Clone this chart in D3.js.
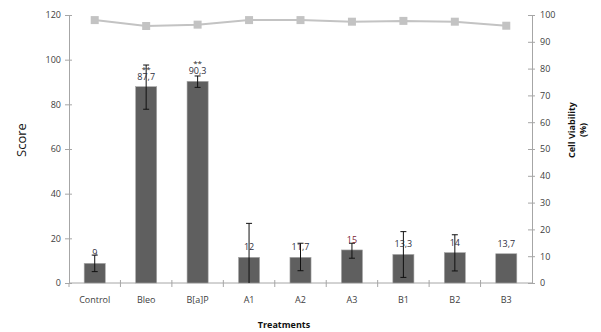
<!DOCTYPE html>
<html lang="en">
<head>
  <meta charset="UTF-8">
  <title>Score and cell viability</title>
  <style>
    body { margin: 0; background: #fff; }
    text { font-family: "Open Sans", "DejaVu Sans", sans-serif; }
  </style>
</head>
<body>
  <svg id="svg" width="601" height="332"></svg>

  <script src="https://d3js.org/d3.v7.min.js"></script>
  <script>
    const treatments = ["Control", "Bleo", "B[a]P", "A1", "A2", "A3", "B1", "B2", "B3"]
    // bar heights as drawn, and the printed labels
    const scores = [8.8, 87.9, 90.3, 11.5, 11.5, 14.8, 12.8, 13.6, 13.1]
    const scoreLabels = ["9", "87,7", "90,3", "12", "11,7", "15", "13,3", "14", "13,7"]
    const errLow = [5.1, 77.8, 87.6, 0, 5.5, 11.1, 2.5, 5.4, null]
    const errHigh = [12.5, 97.6, 92.7, 26.7, 17.8, 17.8, 23, 21.6, null]
    const stars = ["", "**", "**", "", "", "", "", "", ""]
    const viability = [98.1, 95.9, 96.4, 98.1, 98.1, 97.5, 97.8, 97.5, 96.0]
    const scoreTicks = [0, 20, 40, 60, 80, 100, 120]
    const viabilityTicks = [0, 10, 20, 30, 40, 50, 60, 70, 80, 90, 100]

    const svg = d3.select("#svg")
    const plotLeft = 69, plotRight = 532, plotTop = 15, plotBottom = 283
    const axisColor = "#a6a6a6"

    const x = d3.scaleBand()
      .domain(treatments)
      .range([plotLeft, plotRight])
      .paddingInner(0.59)
      .paddingOuter(0.295)

    const xOuter = d3.scaleBand()
      .domain(treatments)
      .range([plotLeft, plotRight])

    const yScore = d3.scaleLinear().domain([0, 120]).range([plotBottom, plotTop])
    const yViab = d3.scaleLinear().domain([0, 100]).range([plotBottom, plotTop])

    // left axis
    const gl = svg.append("g")
      .attr("transform", `translate(${plotLeft},0)`)
      .call(d3.axisLeft(yScore).tickValues(scoreTicks).tickSize(0).tickPadding(8))
    gl.selectAll(".tick").append("line").attr("x1", -4).attr("x2", 3)
    // right axis
    const gr = svg.append("g")
      .attr("transform", `translate(${plotRight},0)`)
      .call(d3.axisRight(yViab).tickValues(viabilityTicks).tickSize(0).tickPadding(8))
    gr.selectAll(".tick").append("line").attr("x1", -4).attr("x2", 3)

    // bottom axis with ticks on band edges
    const gb = svg.append("g")
    gb.append("line")
      .attr("x1", plotLeft).attr("x2", plotRight)
      .attr("y1", plotBottom).attr("y2", plotBottom)
    gb.selectAll(".edge")
      .data(treatments.slice(1))
      .enter()
      .append("line")
      .attr("class", "edge")
      .attr("x1", d => xOuter(d)).attr("x2", d => xOuter(d))
      .attr("y1", plotBottom - 3).attr("y2", plotBottom + 4)
    gb.append("line")
      .attr("x1", plotLeft).attr("x2", plotLeft)
      .attr("y1", plotBottom).attr("y2", plotBottom + 4)
    gb.selectAll(".cat")
      .data(treatments)
      .enter()
      .append("text")
      .attr("class", "cat")
      .attr("x", d => x(d) + x.bandwidth() / 2)
      .attr("y", plotBottom + 20)
      .attr("text-anchor", "middle")
      .attr("font-size", 9)
      .attr("fill", "#404040")
      .text(d => d)

    svg.selectAll(".domain").attr("stroke", axisColor)
    svg.selectAll(".tick line").attr("stroke", axisColor)
    gb.selectAll("line").attr("stroke", axisColor)
    svg.selectAll(".tick text").attr("font-size", 9).attr("fill", "#404040")
      .style("font-family", '"Open Sans", "DejaVu Sans", sans-serif')

    // bars
    svg.selectAll(".bar")
      .data(treatments)
      .enter()
      .append("rect")
      .attr("class", "bar")
      .attr("x", d => x(d))
      .attr("width", x.bandwidth())
      .attr("y", (d, i) => yScore(scores[i]))
      .attr("height", (d, i) => plotBottom - yScore(scores[i]))
      .attr("fill", "#5f5f5f")
      .attr("stroke", "#a8a8a8")
      .attr("stroke-width", 0.6)

    // error bars
    const eb = svg.append("g").attr("stroke", "#111").attr("stroke-width", 1)
    treatments.forEach((t, i) => {
      if (errLow[i] == null) return
      const cx = x(t) + x.bandwidth() / 2
      eb.append("line").attr("x1", cx).attr("x2", cx)
        .attr("y1", yScore(errLow[i])).attr("y2", yScore(errHigh[i]))
      eb.append("line").attr("x1", cx - 3).attr("x2", cx + 3)
        .attr("y1", yScore(errHigh[i])).attr("y2", yScore(errHigh[i]))
      if (errLow[i] > 0) {
        eb.append("line").attr("x1", cx - 3).attr("x2", cx + 3)
          .attr("y1", yScore(errLow[i])).attr("y2", yScore(errLow[i]))
      }
    })

    // value labels
    svg.selectAll(".val")
      .data(treatments)
      .enter()
      .append("text")
      .attr("class", "val")
      .attr("x", d => x(d) + x.bandwidth() / 2)
      .attr("y", (d, i) => yScore(scores[i]) - 7)
      .attr("text-anchor", "middle")
      .attr("font-size", 9)
      .attr("fill", (d, i) => i === 5 ? "#7b1c34" : "#303040")
      .text((d, i) => scoreLabels[i])

    svg.selectAll(".star")
      .data(treatments)
      .enter()
      .append("text")
      .attr("class", "star")
      .attr("x", d => x(d) + x.bandwidth() / 2)
      .attr("y", (d, i) => yScore(scores[i]) - 15)
      .attr("text-anchor", "middle")
      .attr("font-size", 8)
      .attr("fill", "#222")
      .text((d, i) => stars[i])

    // viability line
    const line = d3.line()
      .x((d, i) => x(treatments[i]) + x.bandwidth() / 2)
      .y(d => yViab(d))
    svg.append("path")
      .datum(viability)
      .attr("d", line)
      .attr("fill", "none")
      .attr("stroke", "#c3c3c3")
      .attr("stroke-width", 2)
    svg.selectAll(".mark")
      .data(viability)
      .enter()
      .append("rect")
      .attr("class", "mark")
      .attr("x", (d, i) => x(treatments[i]) + x.bandwidth() / 2 - 4)
      .attr("y", d => yViab(d) - 4)
      .attr("width", 8)
      .attr("height", 8)
      .attr("fill", "#c3c3c3")

    // axis titles
    svg.append("text")
      .attr("transform", "translate(26,140) rotate(-90)")
      .attr("text-anchor", "middle")
      .attr("font-size", 13)
      .attr("fill", "#111")
      .text("Score")
    const vt = svg.append("text")
      .attr("transform", "translate(575,130) rotate(-90)")
      .attr("text-anchor", "middle")
      .attr("font-size", 9)
      .attr("font-weight", "bold")
      .attr("fill", "#111")
    vt.append("tspan").attr("x", 0).attr("y", 0).text("Cell Viability")
    vt.append("tspan").attr("x", 0).attr("y", 11).text("(%)")
    svg.append("text")
      .attr("x", 284)
      .attr("y", 328)
      .attr("text-anchor", "middle")
      .attr("font-size", 9)
      .attr("font-weight", "bold")
      .attr("fill", "#111")
      .text("Treatments")
  </script>
</body>
</html>
